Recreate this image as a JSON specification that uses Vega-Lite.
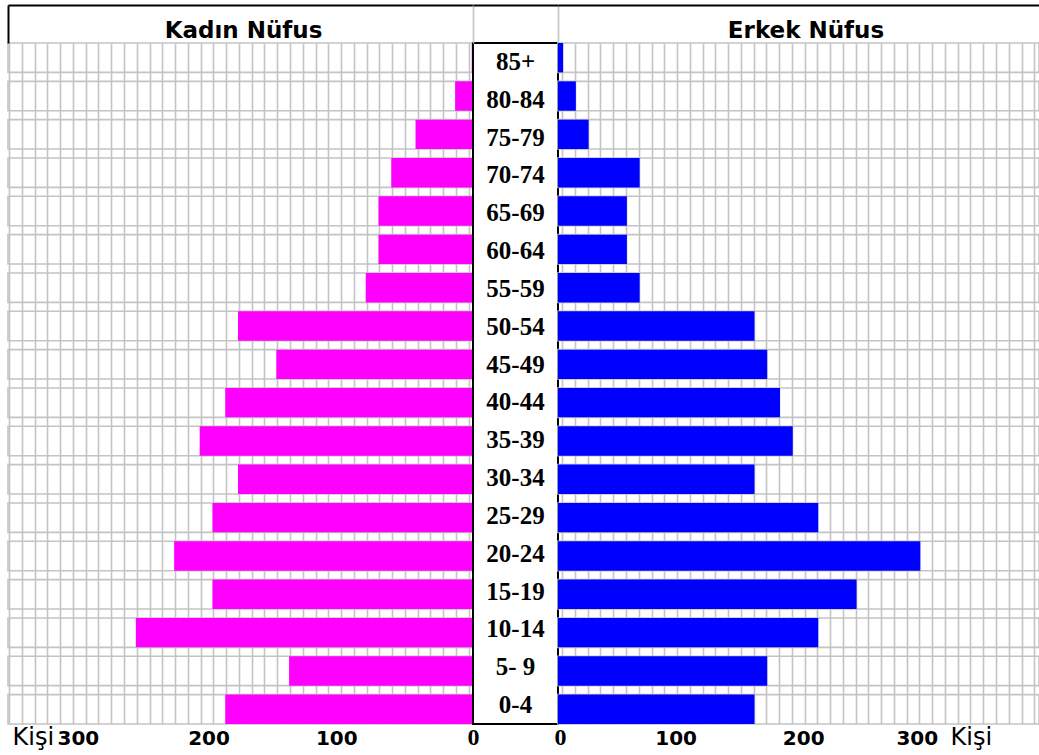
{
  "$schema": "https://vega.github.io/schema/vega-lite/v6.json",
  "background": "white",
  "padding": {"left": 0, "top": 3, "right": 0, "bottom": 6},
  "data": {
    "values": [
      {"age": "85+", "kadin": 1, "erkek": 4},
      {"age": "80-84", "kadin": 14, "erkek": 14},
      {"age": "75-79", "kadin": 45, "erkek": 24},
      {"age": "70-74", "kadin": 64, "erkek": 64},
      {"age": "65-69", "kadin": 74, "erkek": 54},
      {"age": "60-64", "kadin": 74, "erkek": 54},
      {"age": "55-59", "kadin": 84, "erkek": 64},
      {"age": "50-54", "kadin": 184, "erkek": 154},
      {"age": "45-49", "kadin": 154, "erkek": 164},
      {"age": "40-44", "kadin": 194, "erkek": 174},
      {"age": "35-39", "kadin": 214, "erkek": 184},
      {"age": "30-34", "kadin": 184, "erkek": 154},
      {"age": "25-29", "kadin": 204, "erkek": 204},
      {"age": "20-24", "kadin": 234, "erkek": 284},
      {"age": "15-19", "kadin": 204, "erkek": 234},
      {"age": "10-14", "kadin": 264, "erkek": 204},
      {"age": "5- 9", "kadin": 144, "erkek": 164},
      {"age": "0-4", "kadin": 194, "erkek": 154}
    ]
  },
  "spacing": 0,
  "bounds": "flush",
  "hconcat": [
    {
      "width": 465,
      "height": 681,
      "layer": [
        {
          "mark": {"type": "bar", "fillOpacity": 0, "stroke": "#c4c4c4", "strokeWidth": 1.6},
          "encoding": {
            "y": {
              "field": "age", "type": "nominal", "sort": null,
              "scale": {"paddingInner": 0.233, "paddingOuter": 0},
              "axis": {"orient": "left", "labels": false, "ticks": false, "grid": false, "domain": true, "domainColor": "#000000", "domainWidth": 2, "title": null, "minExtent": 0, "zindex": 1}
            },
            "x": {
              "datum": 364.1, "type": "quantitative",
              "scale": {"domain": [0, 364.1], "reverse": true, "nice": false, "zero": true},
              "axis": {
                "orient": "top", "offset": 38, "values": [364.1], "labels": false, "grid": false,
                "ticks": true, "tickSize": -38, "tickColor": "#000000", "tickWidth": 2,
                "domain": true, "domainColor": "#000000", "domainWidth": 2, "minExtent": 0,
                "title": "Kadın Nüfus", "titleX": 235, "titleY": 32, "titleAlign": "center", "titleBaseline": "alphabetic",
                "titleFont": "DejaVu Sans", "titleFontSize": 23, "titleFontWeight": "bold", "titleColor": "#000000", "zindex": 1
              }
            }
          }
        },
        {
          "mark": {"type": "bar", "color": "#ff00ff"},
          "encoding": {
            "y": {"field": "age", "type": "nominal", "sort": null, "scale": {"paddingInner": 0.233, "paddingOuter": 0}, "axis": null},
            "x": {
              "field": "kadin", "type": "quantitative",
              "scale": {"domain": [0, 364.1], "reverse": true, "nice": false, "zero": true},
              "axis": {
                "orient": "bottom",
                "values": [0, 100, 200, 300, 3.3, 13.3, 23.3, 33.3, 43.3, 53.3, 63.3, 73.3, 83.3, 93.3, 103.3, 113.3, 123.3, 133.3, 143.3, 153.3, 163.3, 173.3, 183.3, 193.3, 203.3, 213.3, 223.3, 233.3, 243.3, 253.3, 263.3, 273.3, 283.3, 293.3, 303.3, 313.3, 323.3, 333.3, 343.3, 353.3, 363.3],
                "grid": true, "gridColor": "#c4c4c4", "gridWidth": 1.6,
                "gridOpacity": {"condition": {"test": "datum.value % 100 === 0", "value": 0}, "value": 1},
                "ticks": false, "domain": false, "minExtent": 0,
                "labelExpr": "datum.value % 100 === 0 ? '' + datum.value : ''",
                "labelFont": {"condition": {"test": "datum.value === 0", "value": "Liberation Serif"}, "value": "DejaVu Sans"},
                "labelFontSize": {"condition": {"test": "datum.value === 0", "value": 24}, "value": 20},
                "labelFontWeight": "bold", "labelColor": "#000000", "labelBaseline": "alphabetic", "labelPadding": 20,
                "labelOffset": {"condition": [{"test": "datum.value === 0", "value": 0}, {"test": "datum.value === 300", "value": -12}], "value": -9},
                "labelFlush": false, "labelOverlap": false, "labelBound": false,
                "title": "Kişi", "titleX": 4, "titleY": 20, "titleAlign": "left", "titleBaseline": "alphabetic",
                "titleFont": "DejaVu Sans", "titleFontWeight": "normal", "titleFontSize": 24, "titleColor": "#000000"
              }
            }
          }
        }
      ],
      "resolve": {"axis": {"x": "independent"}}
    },
    {
      "width": 85,
      "height": 681,
      "view": {"stroke": "#000000", "strokeWidth": 2},
      "mark": {"type": "text", "font": "Liberation Serif", "fontSize": 25, "fontWeight": "bold", "color": "#000000", "align": "center", "baseline": "middle"},
      "encoding": {
        "y": {"field": "age", "type": "nominal", "sort": null, "scale": {"paddingInner": 0.233, "paddingOuter": 0}, "axis": null},
        "x": {
          "datum": 0.5, "type": "quantitative",
          "scale": {"domain": [0, 1], "nice": false, "zero": false},
          "axis": {
            "orient": "top", "offset": 38, "values": [0, 1], "labels": false, "grid": false,
            "ticks": true, "tickSize": -38, "tickColor": "#c4c4c4", "tickWidth": 1.6,
            "domain": true, "domainColor": "#000000", "domainWidth": 2, "title": null, "minExtent": 0
          }
        },
        "text": {"field": "age"}
      }
    },
    {
      "width": 481,
      "height": 681,
      "layer": [
        {
          "mark": {"type": "bar", "fillOpacity": 0, "stroke": "#c4c4c4", "strokeWidth": 1.6},
          "encoding": {
            "y": {"field": "age", "type": "nominal", "sort": null, "scale": {"paddingInner": 0.233, "paddingOuter": 0}, "axis": null},
            "x": {
              "datum": 377, "type": "quantitative",
              "scale": {"domain": [0, 377], "nice": false, "zero": true},
              "axis": {
                "orient": "top", "offset": 38, "labels": false, "grid": false, "ticks": false,
                "domain": true, "domainColor": "#000000", "domainWidth": 2, "minExtent": 0,
                "title": "Erkek Nüfus", "titleX": 247.5, "titleY": 32, "titleAlign": "center", "titleBaseline": "alphabetic",
                "titleFont": "DejaVu Sans", "titleFontSize": 23, "titleFontWeight": "bold", "titleColor": "#000000", "zindex": 1
              }
            }
          }
        },
        {
          "mark": {"type": "bar", "color": "#0000ff"},
          "encoding": {
            "y": {"field": "age", "type": "nominal", "sort": null, "scale": {"paddingInner": 0.233, "paddingOuter": 0}, "axis": null},
            "x": {
              "field": "erkek", "type": "quantitative",
              "scale": {"domain": [0, 377], "nice": false, "zero": true},
              "axis": {
                "orient": "bottom",
                "values": [0, 100, 200, 300, 3.3, 13.3, 23.3, 33.3, 43.3, 53.3, 63.3, 73.3, 83.3, 93.3, 103.3, 113.3, 123.3, 133.3, 143.3, 153.3, 163.3, 173.3, 183.3, 193.3, 203.3, 213.3, 223.3, 233.3, 243.3, 253.3, 263.3, 273.3, 283.3, 293.3, 303.3, 313.3, 323.3, 333.3, 343.3, 353.3, 363.3, 373.3],
                "grid": true, "gridColor": "#c4c4c4", "gridWidth": 1.6,
                "gridOpacity": {"condition": {"test": "datum.value % 100 === 0", "value": 0}, "value": 1},
                "ticks": false, "domain": false, "minExtent": 0,
                "labelExpr": "datum.value % 100 === 0 ? '' + datum.value : ''",
                "labelFont": {"condition": {"test": "datum.value === 0", "value": "Liberation Serif"}, "value": "DejaVu Sans"},
                "labelFontSize": {"condition": {"test": "datum.value === 0", "value": 24}, "value": 20},
                "labelFontWeight": "bold", "labelColor": "#000000", "labelBaseline": "alphabetic", "labelPadding": 20,
                "labelOffset": {"condition": [{"test": "datum.value === 0", "value": 2}, {"test": "datum.value === 300", "value": -24}], "value": -10},
                "labelFlush": false, "labelOverlap": false, "labelBound": false,
                "title": "Kişi", "titleX": 392, "titleY": 20, "titleAlign": "left", "titleBaseline": "alphabetic",
                "titleFont": "DejaVu Sans", "titleFontWeight": "normal", "titleFontSize": 24, "titleColor": "#000000"
              }
            }
          }
        }
      ],
      "resolve": {"axis": {"x": "independent"}}
    }
  ],
  "config": {"view": {"stroke": null}}
}
